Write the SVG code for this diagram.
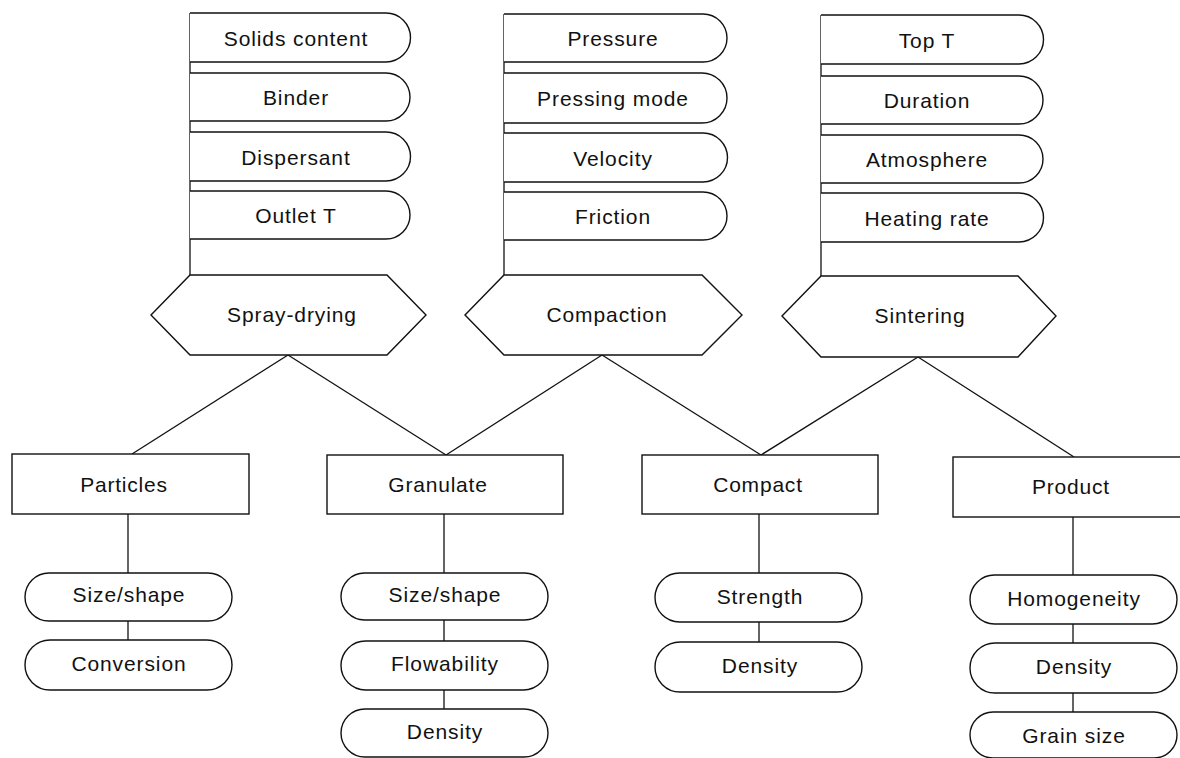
<svg xmlns="http://www.w3.org/2000/svg" width="1180" height="758" viewBox="0 0 1180 758">
<style>
.s{fill:#fff;stroke:#111;stroke-width:1.4}
.l{fill:none;stroke:#111;stroke-width:1.3}
text{font-family:"Liberation Sans",Arial,sans-serif;font-size:21px;fill:#111;text-anchor:middle;letter-spacing:0.9px}
.b{font-size:21px;letter-spacing:0.8px}
</style>
<rect width="1180" height="758" fill="#fff"/>
<g id="connectors" class="l">
<line x1="190" y1="13" x2="190" y2="275"/>
<line x1="504" y1="14" x2="504" y2="275"/>
<line x1="821" y1="15" x2="821" y2="276"/>
<line x1="288" y1="355" x2="132" y2="454"/>
<line x1="288" y1="355" x2="446" y2="455"/>
<line x1="602" y1="355" x2="446" y2="455"/>
<line x1="602" y1="355" x2="761" y2="455"/>
<line x1="918" y1="357" x2="761" y2="455"/>
<line x1="918" y1="357" x2="1074" y2="457"/>
<line x1="128" y1="514" x2="128" y2="573"/>
<line x1="128" y1="621" x2="128" y2="640"/>
<line x1="444" y1="514" x2="444" y2="573"/>
<line x1="444" y1="620" x2="444" y2="641"/>
<line x1="444" y1="690" x2="444" y2="709"/>
<line x1="759" y1="514" x2="759" y2="573"/>
<line x1="759" y1="622" x2="759" y2="642"/>
<line x1="1073" y1="517" x2="1073" y2="575"/>
<line x1="1073" y1="624" x2="1073" y2="643"/>
<line x1="1073" y1="693" x2="1073" y2="712"/>
</g>
<g id="p-solids"><path class="s" d="M190,13 H386 A24.5,24.5 0 0 1 386,62 H190"/><text x="296" y="46">Solids content</text></g>
<g id="p-binder"><path class="s" d="M190,73 H386 A24,24 0 0 1 386,121 H190"/><text x="296" y="105">Binder</text></g>
<g id="p-dispersant"><path class="s" d="M190,132 H386 A24.5,24.5 0 0 1 386,181 H190"/><text x="296" y="165">Dispersant</text></g>
<g id="p-outlet"><path class="s" d="M190,191 H386 A24,24 0 0 1 386,239 H190"/><text x="296" y="223">Outlet T</text></g>
<g id="p-pressure"><path class="s" d="M504,14 H703 A24,24 0 0 1 703,62 H504"/><text x="613" y="46">Pressure</text></g>
<g id="p-mode"><path class="s" d="M504,73 H702 A25,25 0 0 1 702,123 H504"/><text x="613" y="106">Pressing mode</text></g>
<g id="p-velocity"><path class="s" d="M504,133 H703 A24.5,24.5 0 0 1 703,182 H504"/><text x="613" y="166">Velocity</text></g>
<g id="p-friction"><path class="s" d="M504,192 H703 A24,24 0 0 1 703,240 H504"/><text x="613" y="224">Friction</text></g>
<g id="p-topt"><path class="s" d="M821,15 H1019 A24.5,24.5 0 0 1 1019,64 H821"/><text x="927" y="48">Top T</text></g>
<g id="p-duration"><path class="s" d="M821,76 H1019 A24,24 0 0 1 1019,124 H821"/><text x="927" y="108">Duration</text></g>
<g id="p-atmosphere"><path class="s" d="M821,135 H1019 A24,24 0 0 1 1019,183 H821"/><text x="927" y="167">Atmosphere</text></g>
<g id="p-heating"><path class="s" d="M821,193 H1019 A24.5,24.5 0 0 1 1019,242 H821"/><text x="927" y="226">Heating rate</text></g>
<g id="spray-drying"><polygon class="s" points="190,275 387,275 426,315 387,355 190,355 151,315"/><text x="292" y="322">Spray-drying</text></g>
<g id="compaction"><polygon class="s" points="504,275 702,275 742,315 702,355 504,355 465,315"/><text x="607" y="322">Compaction</text></g>
<g id="sintering"><polygon class="s" points="821,276 1018,276 1056,316 1018,357 821,357 782,316"/><text x="920" y="323">Sintering</text></g>
<g id="particles"><rect class="s" x="12" y="454" width="237" height="60"/><text class="b" x="124" y="492">Particles</text></g>
<g id="granulate"><rect class="s" x="327" y="455" width="236" height="59"/><text class="b" x="438" y="492">Granulate</text></g>
<g id="compact"><rect class="s" x="642" y="455" width="236" height="59"/><text class="b" x="758" y="492">Compact</text></g>
<g id="product"><rect class="s" x="953" y="457" width="240" height="60"/><text class="b" x="1071" y="494">Product</text></g>
<g id="pa-size"><rect class="s" x="25" y="573" width="207" height="48" rx="24"/><text x="129" y="602">Size/shape</text></g>
<g id="pa-conv"><rect class="s" x="25" y="640" width="207" height="50" rx="25"/><text x="129" y="671">Conversion</text></g>
<g id="gr-size"><rect class="s" x="341" y="573" width="207" height="47" rx="23.5"/><text x="445" y="602">Size/shape</text></g>
<g id="gr-flow"><rect class="s" x="341" y="641" width="207" height="49" rx="24.5"/><text x="445" y="671">Flowability</text></g>
<g id="gr-density"><rect class="s" x="341" y="709" width="207" height="48" rx="24"/><text x="445" y="739">Density</text></g>
<g id="co-strength"><rect class="s" x="655" y="573" width="207" height="49" rx="24.5"/><text x="760" y="604">Strength</text></g>
<g id="co-density"><rect class="s" x="655" y="642" width="207" height="50" rx="25"/><text x="760" y="673">Density</text></g>
<g id="pr-homog"><rect class="s" x="970" y="575" width="207" height="49" rx="24.5"/><text x="1074" y="606">Homogeneity</text></g>
<g id="pr-density"><rect class="s" x="970" y="643" width="207" height="50" rx="25"/><text x="1074" y="674">Density</text></g>
<g id="pr-grain"><rect class="s" x="970" y="712" width="207" height="46" rx="23"/><text x="1074" y="743">Grain size</text></g>
</svg>
